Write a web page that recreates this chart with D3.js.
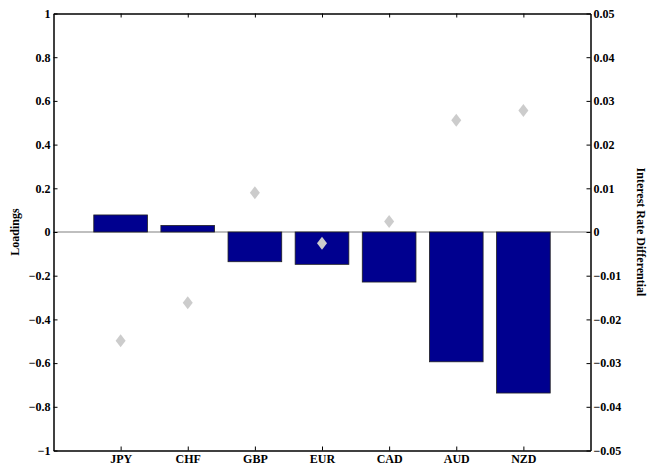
<!DOCTYPE html>
<html><head><meta charset="utf-8">
<script src="https://cdn.jsdelivr.net/npm/d3@7"></script>
<style>body{margin:0;background:#fff;} svg{display:block;} text{font-family:'Liberation Serif','Times New Roman',serif;font-weight:bold;}</style>
</head><body>
<svg id="c" width="649" height="465"></svg>
<script>
const categories = ["JPY","CHF","GBP","EUR","CAD","AUD","NZD"];
const loadings = [0.078, 0.030, -0.136, -0.148, -0.229, -0.594, -0.737];
const rateDiff = [-0.0249, -0.0162, 0.0090, -0.0026, 0.0024, 0.0256, 0.0278];
const leftTicks = [-1,-0.8,-0.6,-0.4,-0.2,0,0.2,0.4,0.6,0.8,1];
const rightTicks = [-0.05,-0.04,-0.03,-0.02,-0.01,0,0.01,0.02,0.03,0.04,0.05];

const svg = d3.select("#c");
const L = 53.5, R = 590.5, T = 13.5, B = 450.5;
const x = d3.scaleLinear().domain([0, categories.length + 1]).range([L, R]);
const yL = d3.scaleLinear().domain([-1, 1]).range([B, T]);
const yR = d3.scaleLinear().domain([-0.05, 0.05]).range([B, T]);
const font = "'Liberation Serif','Times New Roman',serif";
const fmt = v => v === 0 ? "0" : (v < 0 ? "\u2212" : "") + d3.format("")(Math.abs(+v.toFixed(2)));

// zero line
svg.append("line").attr("x1", L).attr("x2", R).attr("y1", yL(0)).attr("y2", yL(0))
  .attr("stroke", "#808080").attr("stroke-width", 1.2);

// bars
const bw = x(0.8) - x(0);
svg.selectAll("rect.bar").data(loadings).join("rect").attr("class","bar")
  .attr("x", (d,i) => x(i+1) - bw/2)
  .attr("width", bw)
  .attr("y", d => yL(Math.max(0,d)))
  .attr("height", d => Math.abs(yL(d) - yL(0)))
  .attr("fill", "#00008f").attr("stroke", "#222").attr("stroke-width", 0.8);

// diamonds
svg.selectAll("path.dia").data(rateDiff).join("path").attr("class","dia")
  .attr("transform", (d,i) => `translate(${x(i+1)},${yR(d)})`)
  .attr("d", "M0,-6.5L5,0L0,6.5L-5,0Z")
  .attr("fill", "#cccccc");

// axes
const axL = d3.axisLeft(yL).tickValues(leftTicks).tickSizeInner(-4).tickSizeOuter(0).tickPadding(3).tickFormat(fmt);
const axR = d3.axisRight(yR).tickValues(rightTicks).tickSizeInner(-4).tickSizeOuter(0).tickPadding(3).tickFormat(fmt);
const axB = d3.axisBottom(x).tickValues(d3.range(1, categories.length+1)).tickSizeInner(-4).tickSizeOuter(0).tickPadding(1).tickFormat(d => categories[d-1]);
const axT = d3.axisTop(x).tickValues(d3.range(1, categories.length+1)).tickSizeInner(-4).tickSizeOuter(0).tickFormat("");

function style(g){
  g.attr("font-family", null);
  g.select(".domain").attr("stroke","#000").attr("stroke-width",1.5);
  g.selectAll(".tick line").attr("stroke","#000").attr("stroke-width",1);
  g.selectAll("text").style("font-family", font).style("font-weight","bold").attr("font-size", 12).attr("fill","#000");
}
svg.append("g").attr("transform", `translate(${L},0)`).call(axL).call(style);
svg.append("g").attr("transform", `translate(${R},0)`).call(axR).call(style);
const gB = svg.append("g").attr("transform", `translate(0,${B})`).call(axB).call(style);
gB.selectAll(".tick text").attr("y", 12.5).attr("dy", 0);
svg.append("g").attr("transform", `translate(0,${T})`).call(axT).call(style);

svg.append("text").attr("transform", `translate(19,${(T+B)/2}) rotate(-90)`)
  .attr("text-anchor","middle").style("font-family", font).attr("font-size",12)
  .text("Loadings");
svg.append("text").attr("transform", `translate(637,${(T+B)/2}) rotate(90)`)
  .attr("text-anchor","middle").style("font-family", font).attr("font-size",12)
  .text("Interest Rate Differential");
</script>
</body></html>
